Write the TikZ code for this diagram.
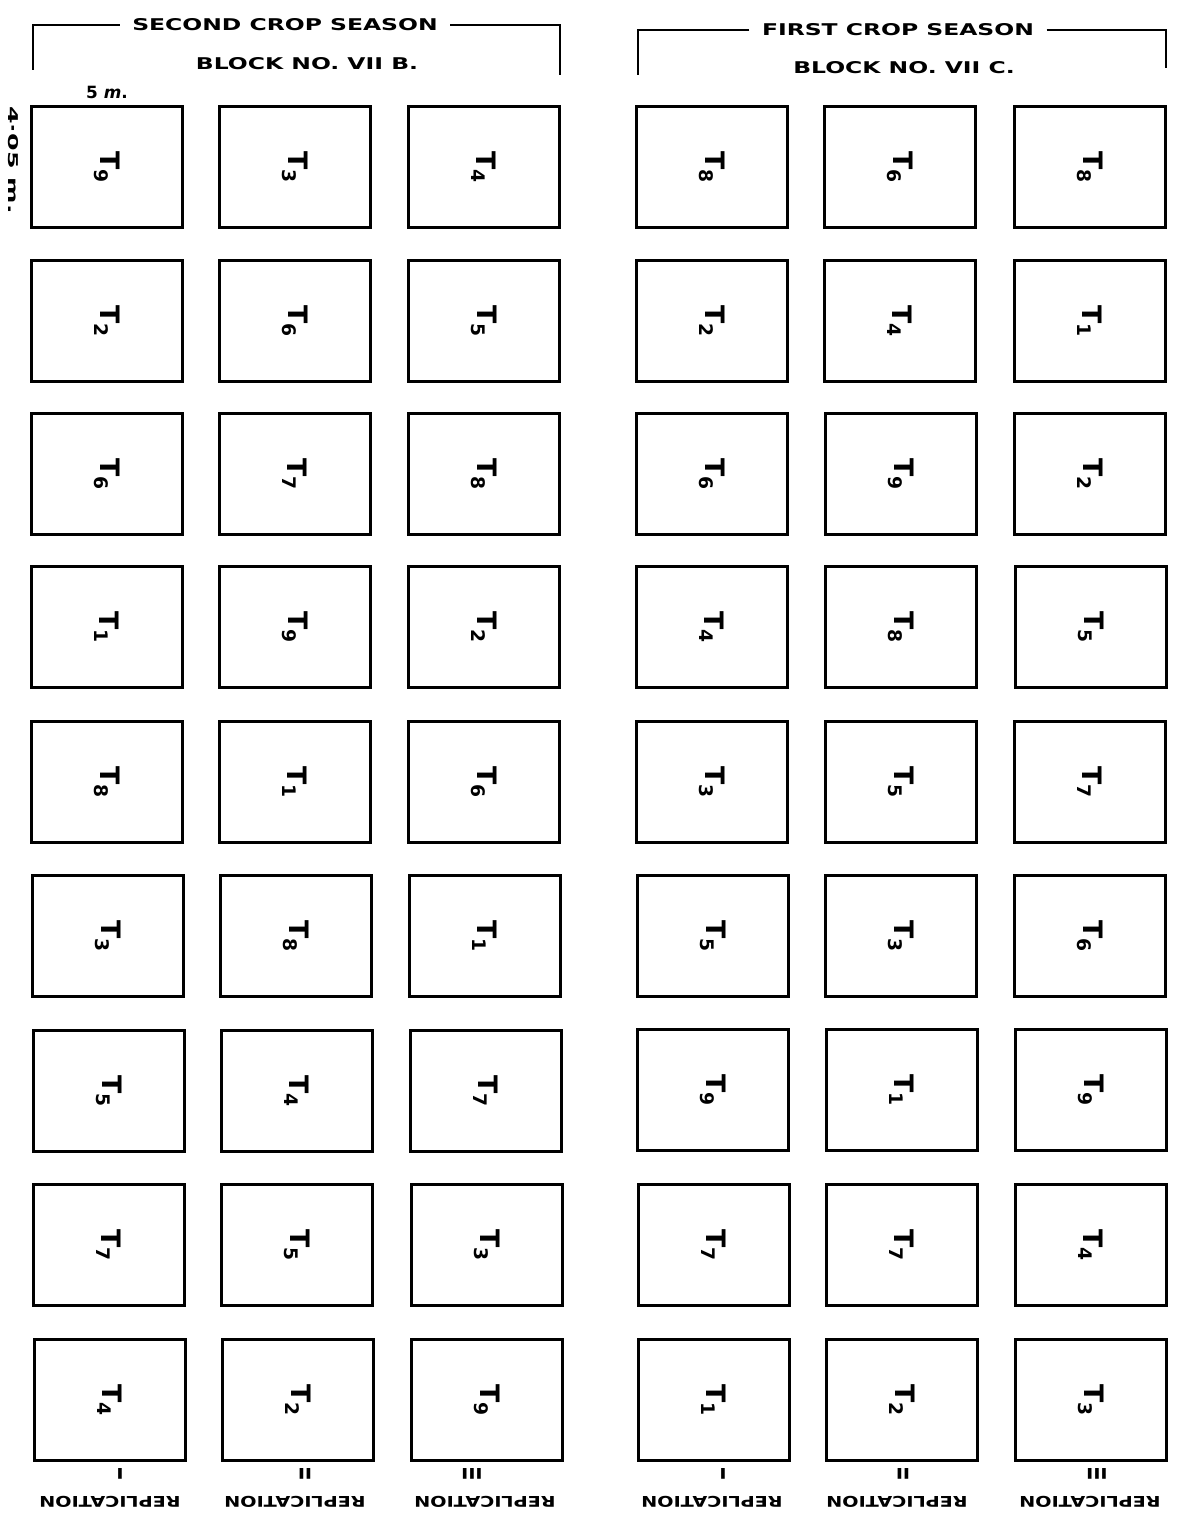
\documentclass[tikz,border=0pt]{standalone}
\usepackage{fontspec}
\setmainfont{DejaVu Sans}
\begin{document}
\begin{tikzpicture}[x=0.025cm,y=-0.025cm,
  plotbox/.style={draw,line width=1.6pt,rotate=-90,inner sep=0pt,
    minimum width=3.025cm,minimum height=3.775cm,font=\bfseries\fontsize{19}{21}\selectfont},
  season/.style={font=\bfseries\fontsize{11.5}{13}\selectfont,xscale=1.45,inner sep=6pt},
  repl/.style={font=\bfseries\fontsize{10.5}{12}\selectfont,rotate=180,xscale=1.3},
  dimlab/.style={font=\bfseries\fontsize{12}{14}\selectfont},
  bracket/.style={line width=1.3pt}]
\useasboundingbox (0,0) rectangle (1180,1530);
% headings
\node[season] (secS) at (285,25) {SECOND CROP SEASON};
\node[season] (secB) at (307,64) {BLOCK NO. VII B.};
\node[season] (firS) at (898,30) {FIRST CROP SEASON};
\node[season] (firB) at (904,68) {BLOCK NO. VII C.};
\coordinate (secL) at (33,25);
\coordinate (secLd) at (33,70);
\coordinate (secR) at (560,25);
\coordinate (secRd) at (560,75);
\coordinate (firL) at (638,30);
\coordinate (firLd) at (638,75);
\coordinate (firR) at (1166,30);
\coordinate (firRd) at (1166,68);
\draw[bracket] (secS.west) -- (secL) -- (secLd);
\draw[bracket] (secS.east) -- (secR) -- (secRd);
\draw[bracket] (firS.west) -- (firL) -- (firLd);
\draw[bracket] (firS.east) -- (firR) -- (firRd);
\node[dimlab] (wdim) at (107,92) {5 \textit{m}.};
\node[dimlab,rotate=-90,yscale=0.8,xscale=1.5] (hdim) at (13,160) {4·05 m.};
% block VII B
\node[plotbox] (B11) at (107,167) {T\textsubscript{9}};
\node[plotbox] (B12) at (295,167) {T\textsubscript{3}};
\node[plotbox] (B13) at (484,167) {T\textsubscript{4}};
\node[plotbox] (B21) at (107,321) {T\textsubscript{2}};
\node[plotbox] (B22) at (295,321) {T\textsubscript{6}};
\node[plotbox] (B23) at (484,321) {T\textsubscript{5}};
\node[plotbox] (B31) at (107,474) {T\textsubscript{6}};
\node[plotbox] (B32) at (295,474) {T\textsubscript{7}};
\node[plotbox] (B33) at (484,474) {T\textsubscript{8}};
\node[plotbox] (B41) at (107,627) {T\textsubscript{1}};
\node[plotbox] (B42) at (295,627) {T\textsubscript{9}};
\node[plotbox] (B43) at (484,627) {T\textsubscript{2}};
\node[plotbox] (B51) at (107,782) {T\textsubscript{8}};
\node[plotbox] (B52) at (295,782) {T\textsubscript{1}};
\node[plotbox] (B53) at (484,782) {T\textsubscript{6}};
\node[plotbox] (B61) at (108,936) {T\textsubscript{3}};
\node[plotbox] (B62) at (296,936) {T\textsubscript{8}};
\node[plotbox] (B63) at (485,936) {T\textsubscript{1}};
\node[plotbox] (B71) at (109,1091) {T\textsubscript{5}};
\node[plotbox] (B72) at (297,1091) {T\textsubscript{4}};
\node[plotbox] (B73) at (486,1091) {T\textsubscript{7}};
\node[plotbox] (B81) at (109,1245) {T\textsubscript{7}};
\node[plotbox] (B82) at (297,1245) {T\textsubscript{5}};
\node[plotbox] (B83) at (487,1245) {T\textsubscript{3}};
\node[plotbox] (B91) at (110,1400) {T\textsubscript{4}};
\node[plotbox] (B92) at (298,1400) {T\textsubscript{2}};
\node[plotbox] (B93) at (487,1400) {T\textsubscript{9}};
% block VII C
\node[plotbox] (C11) at (712,167) {T\textsubscript{8}};
\node[plotbox] (C12) at (900,167) {T\textsubscript{6}};
\node[plotbox] (C13) at (1090,167) {T\textsubscript{8}};
\node[plotbox] (C21) at (712,321) {T\textsubscript{2}};
\node[plotbox] (C22) at (900,321) {T\textsubscript{4}};
\node[plotbox] (C23) at (1090,321) {T\textsubscript{1}};
\node[plotbox] (C31) at (712,474) {T\textsubscript{6}};
\node[plotbox] (C32) at (901,474) {T\textsubscript{9}};
\node[plotbox] (C33) at (1090,474) {T\textsubscript{2}};
\node[plotbox] (C41) at (712,627) {T\textsubscript{4}};
\node[plotbox] (C42) at (901,627) {T\textsubscript{8}};
\node[plotbox] (C43) at (1091,627) {T\textsubscript{5}};
\node[plotbox] (C51) at (712,782) {T\textsubscript{3}};
\node[plotbox] (C52) at (901,782) {T\textsubscript{5}};
\node[plotbox] (C53) at (1090,782) {T\textsubscript{7}};
\node[plotbox] (C61) at (713,936) {T\textsubscript{5}};
\node[plotbox] (C62) at (901,936) {T\textsubscript{3}};
\node[plotbox] (C63) at (1090,936) {T\textsubscript{6}};
\node[plotbox] (C71) at (713,1090) {T\textsubscript{9}};
\node[plotbox] (C72) at (902,1090) {T\textsubscript{1}};
\node[plotbox] (C73) at (1091,1090) {T\textsubscript{9}};
\node[plotbox] (C81) at (714,1245) {T\textsubscript{7}};
\node[plotbox] (C82) at (902,1245) {T\textsubscript{7}};
\node[plotbox] (C83) at (1091,1245) {T\textsubscript{4}};
\node[plotbox] (C91) at (714,1400) {T\textsubscript{1}};
\node[plotbox] (C92) at (902,1400) {T\textsubscript{2}};
\node[plotbox] (C93) at (1091,1400) {T\textsubscript{3}};
% replications
\node[repl] (rB1) at (120,1474) {I};
\node[repl] (rB2) at (305,1474) {II};
\node[repl] (rB3) at (472,1474) {III};
\node[repl] (rC1) at (723,1474) {I};
\node[repl] (rC2) at (903,1474) {II};
\node[repl] (rC3) at (1097,1474) {III};
\node[repl] (nB1) at (110,1502) {REPLICATION};
\node[repl] (nB2) at (295,1502) {REPLICATION};
\node[repl] (nB3) at (485,1502) {REPLICATION};
\node[repl] (nC1) at (712,1502) {REPLICATION};
\node[repl] (nC2) at (897,1502) {REPLICATION};
\node[repl] (nC3) at (1090,1502) {REPLICATION};
\end{tikzpicture}
\end{document}
